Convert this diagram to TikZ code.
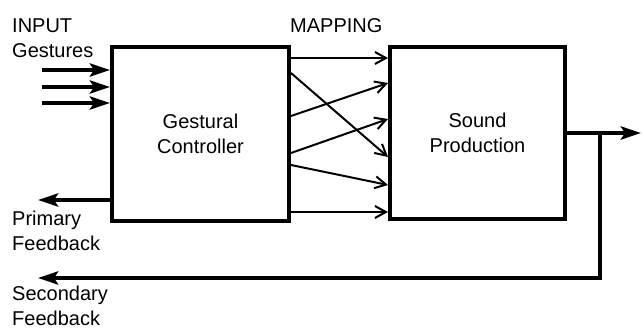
\documentclass[tikz,border=0pt]{standalone}
\usepackage{fontspec}
\setmainfont{Liberation Sans}
\usetikzlibrary{arrows.meta}
\tikzset{
  block/.style={draw, line width=4pt, minimum width=177pt, minimum height=174pt, align=center},
  txt/.style={anchor=base west, align=left, inner sep=0pt},
  fat arrow/.style={line width=4pt, -{Stealth[length=20pt,width=13pt,inset=4pt]}},
  map arrow/.style={line width=2pt, -{Straight Barb[length=11pt,width=12pt]}}
}

\begin{document}
\begin{tikzpicture}[x=1pt, y=-1pt, font=\fontsize{20}{25}\selectfont]
\useasboundingbox (0,0) rectangle (642,329);
\node[block] (ctrl) at (200.5,134) {Gestural\\Controller};
\node[block, minimum width=175pt, minimum height=172pt] (sound) at (477.5,133) {Sound\\Production};
% text nodes: base = last line
\node[txt] (input) at (12,58) {INPUT\\Gestures};
\node[txt] (mapping) at (290,33) {MAPPING};
\node[txt] (primary) at (12,250) {Primary\\Feedback};
\node[txt] (secondary) at (12,325) {Secondary\\Feedback};
\coordinate (split) at (600,133);
\coordinate (out) at (641,133);
\coordinate (pfb) at (38,200);
\coordinate (sfb) at (38,278);
% gestures in
\foreach \y in {70,87,103}
  \draw[fat arrow] (42,\y) -- (ctrl.west |- 0,\y);
% mapping
\foreach \a/\b in {58/58, 73/157, 116/83, 153/119, 165/185, 212/212}
  \draw[map arrow] (ctrl.east |- 0,\a) -- (sound.west |- 0,\b);
% sound out and feedback
\draw[fat arrow] (sound.east) -- (out);
\draw[fat arrow] (split) |- (sfb);
\draw[fat arrow] (ctrl.west |- pfb) -- (pfb);
\end{tikzpicture}
\end{document}
